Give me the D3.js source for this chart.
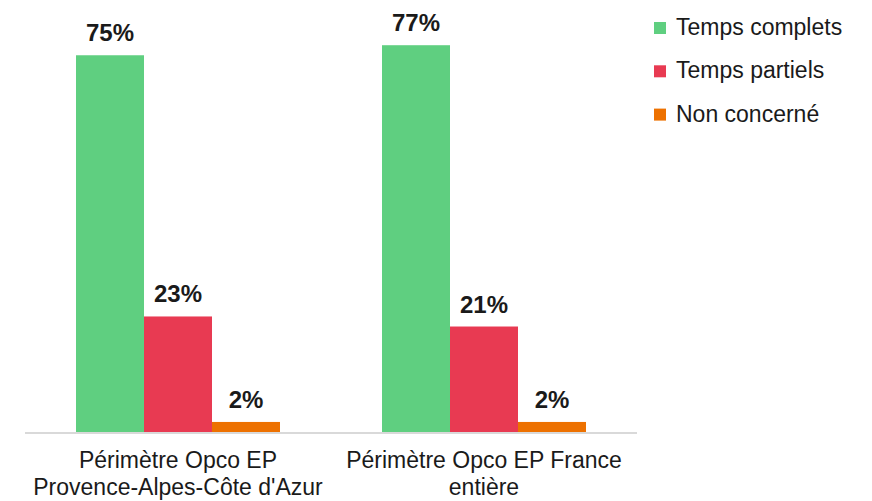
<!DOCTYPE html>
<html>
<head>
<meta charset="utf-8">
<script src="https://cdn.jsdelivr.net/npm/d3@7"></script>
<style>
  html, body { margin: 0; padding: 0; background: #fff; }
  svg { display: block; font-family: Arial, "Liberation Sans", sans-serif; }
</style>
</head>
<body>
<svg id="chart" width="872" height="501"></svg>
<script>
const categories = [
  ["Périmètre Opco EP", "Provence-Alpes-Côte d'Azur"],
  ["Périmètre Opco EP France", "entière"]
];
const series = ["Temps complets", "Temps partiels", "Non concerné"];
const colors = ["#5fcf80", "#e83a52", "#ed7100"];
const tempsComplets = [75, 77];
const tempsPartiels = [23, 21];
const nonConcerne = [2, 2];
const values = [tempsComplets, tempsPartiels, nonConcerne];

const svg = d3.select("#chart");
const margin = { left: 25, right: 235, top: 0, bottom: 69 };
const width = 872 - margin.left - margin.right,
  height = 501 - margin.top - margin.bottom;

const g = svg.append("g").attr("transform", `translate(${margin.left},${margin.top})`);

// one band per group, bars fill the middle two thirds of it
const groupBand = d3.scaleBand().domain(d3.range(categories.length)).range([0, width]);
const x1 = d3.scaleBand()
  .domain(d3.range(series.length))
  .range([0, groupBand.bandwidth() * 2 / 3]);

const y = d3.scaleLinear().domain([0, 86]).range([height, 0]);

categories.forEach((cat, ci) => {
  const gx = groupBand(ci) + groupBand.bandwidth() / 6;
  const grp = g.append("g").attr("transform", `translate(${gx},0)`);
  series.forEach((s, si) => {
    const v = values[si][ci];
    grp.append("rect")
      .attr("x", x1(si))
      .attr("y", y(v))
      .attr("width", x1.bandwidth())
      .attr("height", height - y(v))
      .attr("fill", colors[si]);
    grp.append("text")
      .attr("x", x1(si) + x1.bandwidth() / 2)
      .attr("y", y(v) - 14)
      .attr("text-anchor", "middle")
      .attr("font-size", 24)
      .attr("font-weight", "bold")
      .attr("fill", "#1a1a1a")
      .text(v + "%");
  });
  const cx = groupBand(ci) + groupBand.bandwidth() / 2;
  const lbl = g.append("text")
    .attr("text-anchor", "middle")
    .attr("font-size", 23)
    .attr("fill", "#1a1a1a");
  cat.forEach((line, li) => {
    lbl.append("tspan")
      .attr("x", cx)
      .attr("y", height + 36 + li * 27)
      .text(line);
  });
});

// baseline
g.append("line")
  .attr("x1", 0).attr("x2", width)
  .attr("y1", y(0) + 1).attr("y2", y(0) + 1)
  .attr("stroke", "#d9d9d9")
  .attr("stroke-width", 2);

// legend
const legend = svg.append("g").attr("transform", "translate(654,22)");
series.forEach((s, i) => {
  const row = legend.append("g").attr("transform", `translate(0,${i * 43.3})`);
  row.append("rect").attr("width", 12).attr("height", 12).attr("fill", colors[i]);
  row.append("text")
    .attr("x", 22)
    .attr("y", 13)
    .attr("font-size", 23)
    .attr("fill", "#1a1a1a")
    .text(s);
});
</script>
</body>
</html>
